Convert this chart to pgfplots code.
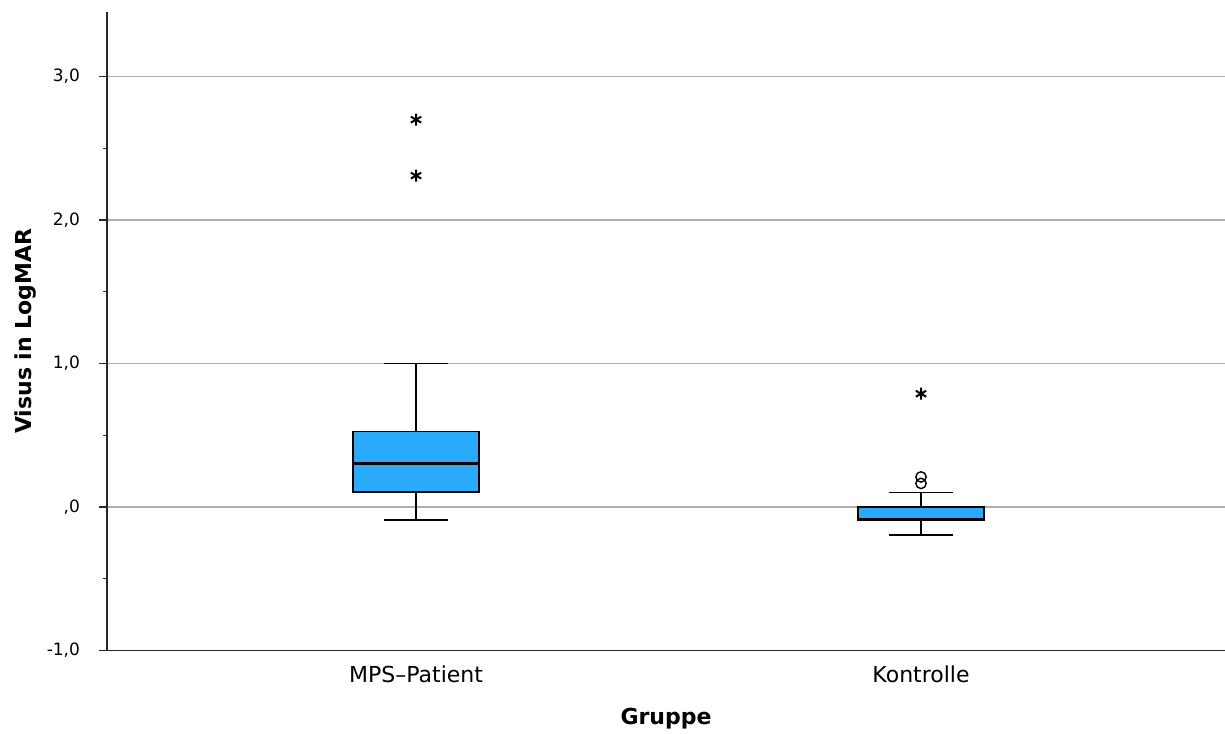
\documentclass[border=0pt]{standalone}
\usepackage{pgfplots}
\pgfplotsset{compat=1.18}
\usepgfplotslibrary{statistics}
\usepackage{fontspec}
\setmainfont{DejaVu Sans}
\definecolor{boxblue}{RGB}{41,170,250}
\definecolor{gridgray}{RGB}{175,175,175}
\begin{document}
\begin{tikzpicture}
\path[use as bounding box] (-53.5pt,-41.5pt) rectangle (559pt,325.3pt);
\begin{axis}[
  scale only axis, width=559pt, height=319.3pt,
  xmin=0.388, xmax=2.602, ymin=-1, ymax=3.45,
  axis x line*=bottom, axis y line*=left,
  axis line style={black!85, line width=0.75pt},
  xtick={1,2}, xticklabels={MPS–Patient, Kontrolle},
  x tick style={draw=none},
  ytick={-1,0,1,2,3}, yticklabels={{-1,0},{,0},{1,0},{2,0},{3,0}},
  minor ytick={-0.5,0.5,1.5,2.5},
  y tick style={black!85, line width=0.6pt},
  ymajorgrids, grid style={gridgray, line width=0.6pt},
  tick align=outside, major tick length=4pt, minor tick length=2pt,
  y tick label style={font=\fontsize{8.5}{10}\selectfont, xshift=-6pt},
  x tick label style={font=\fontsize{11}{13}\selectfont},
  xlabel={Gruppe}, ylabel={Visus in LogMAR},
  label style={font=\bfseries\fontsize{11}{13}\selectfont},
  xlabel style={at={(axis description cs:0.5,-0.1065)}, anchor=center},
  ylabel style={at={(axis description cs:-0.0733,0.5)}, anchor=center},
  boxplot/draw direction=y,
]
\addplot[draw=black, fill=boxblue, line width=0.7pt,
  boxplot prepared={draw position=1, lower whisker=-0.09, lower quartile=0.105,
    median=0.305, upper quartile=0.525, upper whisker=1.0,
    box extend=0.25, whisker extend=0.127,
    every median/.style={line width=1.6pt}}] coordinates {};
\addplot[draw=black, fill=boxblue, line width=0.7pt,
  boxplot prepared={draw position=2, lower whisker=-0.195, lower quartile=-0.095,
    median=-0.087, upper quartile=0.0, upper whisker=0.1,
    box extend=0.25, whisker extend=0.127,
    every median/.style={line width=1.6pt}}] coordinates {};
\addplot[only marks, mark=asterisk, mark size=3pt, line width=1pt, black] coordinates {(1,2.7) (1,2.31) (2,0.79)};
\addplot[only marks, mark=o, mark size=2.6pt, line width=0.7pt, black] coordinates {(2,0.21) (2,0.165)};
\end{axis}
\end{tikzpicture}
\end{document}
